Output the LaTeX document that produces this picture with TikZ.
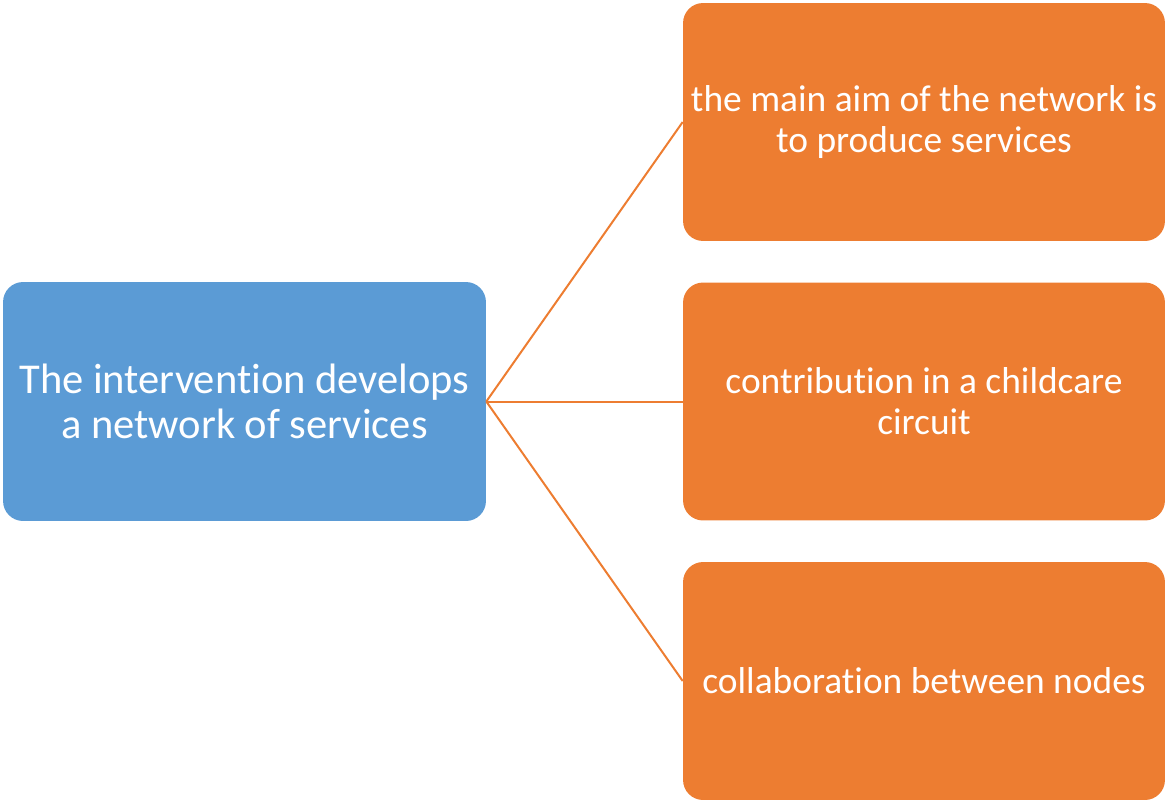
\documentclass[tikz,border=0pt]{standalone}
\usepackage{fontspec}
\setmainfont{Carlito}[Ligatures={NoCommon}]
\definecolor{blueish}{HTML}{5B9BD5}
\definecolor{orangeish}{HTML}{ED7D31}
\begin{document}
\begin{tikzpicture}[x=0.02cm, y=-0.02cm]
        \tikzstyle{every node}=[rounded corners=0.4cm, text=white, align=center, inner sep=0pt]
        \tikzstyle{mainbox}=[fill=blueish, minimum width=9.66cm, minimum height=4.78cm, font=\fontsize{24.2}{26}\selectfont]
        \tikzstyle{itembox}=[fill=orangeish, minimum width=9.64cm, minimum height=4.76cm, font=\fontsize{21.3}{23.3}\selectfont]
        \useasboundingbox (0,0) rectangle (1165,801);
        \node [mainbox] (intervention) at (244.5,401.5) {The intervention develops\\a network of services};
        \node [itembox] (aim) at (924,122) {the main aim of the network is\\to produce services};
        \node [itembox] (childcare) at (924,401.5) {contribution in a childcare\\circuit};
        \node [itembox] (collab) at (924,681) {collaboration between nodes};
        \draw [orangeish, line width=0.04cm] (intervention.east) -- (aim.west);
        \draw [orangeish, line width=0.04cm] (intervention.east) -- (childcare.west);
        \draw [orangeish, line width=0.04cm] (intervention.east) -- (collab.west);
    \end{tikzpicture}
\end{document}
